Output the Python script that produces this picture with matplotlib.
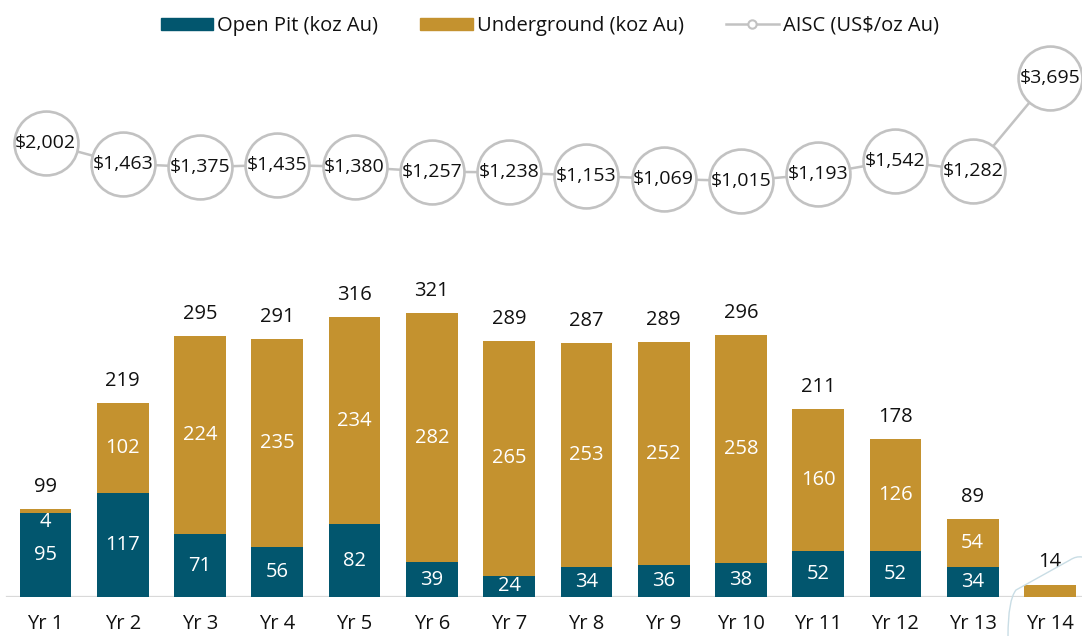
import matplotlib
matplotlib.use("Agg")
import matplotlib.pyplot as plt
from matplotlib.path import Path
from matplotlib.patches import PathPatch, Patch
from matplotlib.lines import Line2D
import numpy as np

years = ["Yr 1", "Yr 2", "Yr 3", "Yr 4", "Yr 5", "Yr 6", "Yr 7", "Yr 8", "Yr 9",
         "Yr 10", "Yr 11", "Yr 12", "Yr 13", "Yr 14"]
open_pit = [95, 117, 71, 56, 82, 39, 24, 34, 36, 38, 52, 52, 34, 0]
underground = [4, 102, 224, 235, 234, 282, 265, 253, 252, 258, 160, 126, 54, 14]
totals = [99, 219, 295, 291, 316, 321, 289, 287, 289, 296, 211, 178, 89, 14]
aisc = [2002, 1463, 1375, 1435, 1380, 1257, 1238, 1153, 1069, 1015, 1193, 1542, 1282, 3695]
show_op_label = [True] * 13 + [False]
show_ug_label = [True] * 13 + [False]

TEAL = "#02566E"
GOLD = "#C4922F"
GREY = "#C2C2C2"
TXT = "#111111"
FONT = ["Open Sans", "DejaVu Sans"]
plt.rcParams["font.family"] = FONT
FS = 14.5

W, H = 1082, 636
fig = plt.figure(figsize=(W / 100, H / 100), dpi=100)
base_px = 597
ax = fig.add_axes([0, (H - base_px) / H, 1, base_px / H])
x = np.arange(len(years))
step = 77.27
x0 = 45.5
ax.set_xlim(-x0 / step, (W - x0) / step)
ax.set_ylim(0, base_px / 0.885)

bw = 0.67
ax.bar(x, open_pit, width=bw, color=TEAL, zorder=2)
ax.bar(x, underground, bottom=open_pit, width=bw, color=GOLD, zorder=2)

for i in range(len(years)):
    op, ug = open_pit[i], underground[i]
    if show_op_label[i] and op > 0:
        ax.text(x[i], op / 2, f"{op}", ha="center", va="center", color="white",
                fontsize=FS, zorder=3)
    if show_ug_label[i] and ug > 0:
        yy = op + ug / 2 if ug >= 10 else op - 10
        ax.text(x[i], yy, f"{ug}", ha="center", va="center", color="white",
                fontsize=FS, zorder=3)
    ax.annotate(f"{totals[i]}", (x[i], op + ug), xytext=(0, 16),
                textcoords="offset points", ha="center", va="center",
                color=TXT, fontsize=FS)

for s in ax.spines.values():
    s.set_visible(False)
ax.axhline(0, xmin=7 / W, xmax=1, color="#D9D9D9", lw=1.6, zorder=1)
ax.set_yticks([])
ax.set_xticks(x)
ax.set_xticklabels(years, fontsize=FS, color=TXT)
ax.tick_params(axis="x", length=0, pad=12)

ax2 = ax.twinx()
ax2.set_xlim(ax.get_xlim())
ax2.set_ylim(-9790, 5716)
ax2.axis("off")
ax2.plot(x, aisc, color=GREY, lw=1.8, marker="o", ms=46, mfc="white",
         mec=GREY, mew=1.9, zorder=3)
for i, v in enumerate(aisc):
    ax2.text(x[i], v, f"${v:,}", ha="center", va="center", fontsize=14,
             color=TXT, zorder=4)

# decorative callout outline near bottom right
pts = [(1008, 636), (1008, 600), (1016, 590), (1016, 590), (1070, 560), (1076, 556), (1082, 557)]
codes = [Path.MOVETO, Path.CURVE3, Path.CURVE3, Path.LINETO, Path.LINETO, Path.CURVE3, Path.CURVE3]
verts = [(px / W, 1 - py / H) for px, py in pts]
fig.patches.append(PathPatch(Path(verts, codes), transform=fig.transFigure,
                             fill=False, edgecolor="#C9DDE5", lw=1.0))

handles = [Patch(color=TEAL), Patch(color=GOLD),
           Line2D([0], [0], color=GREY, lw=1.8, marker="o", ms=6, mfc="white",
                  mec=GREY, mew=1.5)]
labels = ["Open Pit (koz Au)", "Underground (koz Au)", "AISC (US$/oz Au)"]
fig.legend(handles, labels, loc="center", bbox_to_anchor=(0.508, 1 - 26 / H),
           ncol=3, frameon=False, fontsize=14.5, handlelength=2.6,
           handleheight=0.6, handletextpad=0.2, columnspacing=2.1,
           labelcolor=TXT)

fig.savefig("out.png", dpi=100)
